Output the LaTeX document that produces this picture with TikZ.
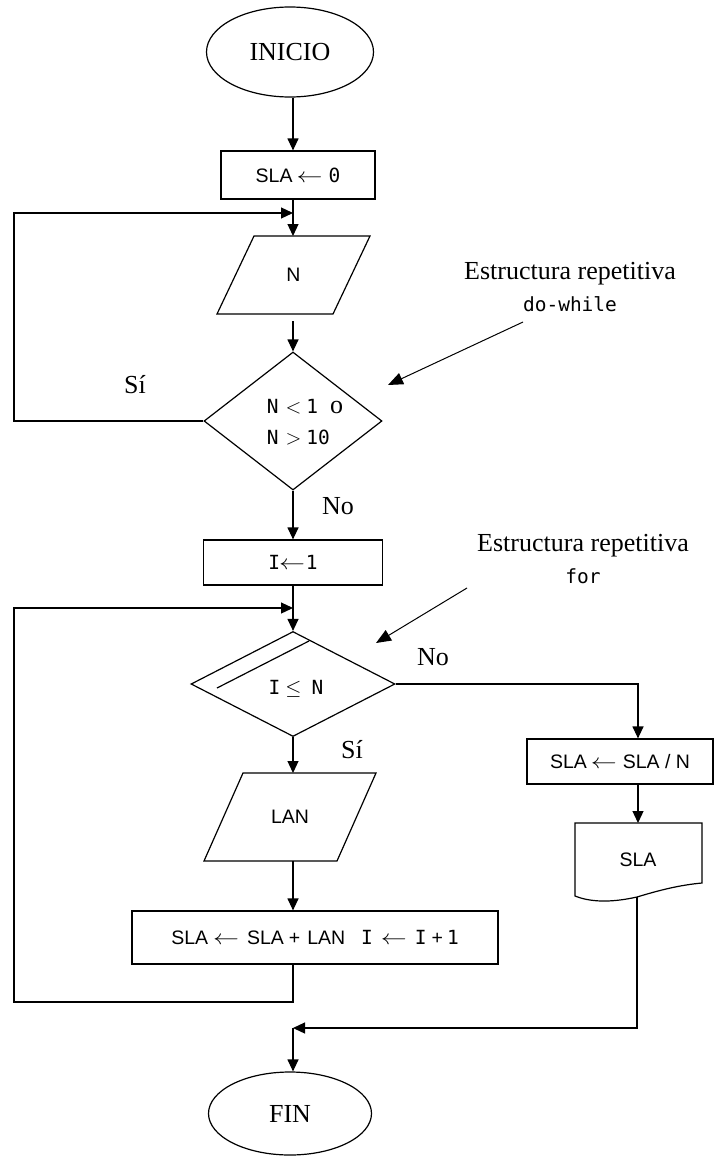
\documentclass[tikz,border=0pt]{standalone}
\usepackage{fontspec}
\setmainfont{Liberation Serif}
\newfontfamily\sansf{Liberation Sans}
\newfontfamily\monof{DejaVu Sans Mono}
\usetikzlibrary{arrows.meta,shapes.geometric}
\newcommand\lfarrow{\scalebox{1.25}[1]{$\leftarrow$}}
\begin{document}
\begin{tikzpicture}[x=1pt,y=-1pt,line width=1.2pt,
  arr/.style={-{Triangle[length=12pt,width=11pt]}},
  thinarr/.style={line width=1pt,-{Triangle[length=15pt,width=12pt]}},
  proc/.style={draw,rectangle,inner sep=0pt,font=\sansf\fontsize{19.5}{22}\selectfont},
  term/.style={draw,ellipse,inner sep=0pt,font=\fontsize{26}{30}\selectfont},
  dec/.style={draw,diamond,inner sep=0pt},
  lbl/.style={inner sep=0pt,font=\fontsize{26}{30}\selectfont},
  txt/.style={inner sep=0pt,font=\sansf\fontsize{19.5}{22}\selectfont},
  dtxt/.style={inner sep=0pt,align=left,font=\monof\fontsize{19.5}{31}\selectfont},
  ann/.style={inner sep=0pt,align=center,font=\fontsize{26}{36}\selectfont},
]
\fill[white] (0,0) rectangle (715,1156);
\useasboundingbox (0,0) rectangle (715,1156);

\coordinate (ax) at (293,0);
\coordinate (farL) at (14,0);
\coordinate (colR) at (638,0);

% nodes
\node[term,minimum width=167pt,minimum height=90pt] (inicio) at (290,52) {INICIO};
\node[proc,minimum width=154pt,minimum height=48pt] (s0) at (298,175) {SLA\hspace{4pt}\lfarrow\hspace{6pt}{\monof 0}};

\draw (254,236) -- (370,236) -- (333,314) -- (217,314) -- cycle;
\node[txt] (pN) at (293.5,275) {N};
\coordinate (pNt) at (293,236);
\coordinate (pNb) at (293,321);

\node[dec,minimum width=178pt,minimum height=138pt] (d1) at (293,421) {};
\node[dtxt] (d1txt) at (305,422)
  {N\hspace{7pt}$<$\hspace{5pt}1\hspace{12pt}{\rmfamily\fontsize{26}{31}\selectfont o}\\N\hspace{7pt}$>$\hspace{5pt}10};

\node[proc,minimum width=179pt,minimum height=45pt] (i1) at (293,562.5) {{\monof I}\hspace{-1pt}\lfarrow\hspace{1pt}{\monof 1}};

\node[dec,minimum width=204pt,minimum height=105pt] (d2) at (293,684) {};
\node[dtxt] (d2txt) at (296,689) {I\hspace{5pt}$\leq$\hspace{10pt}N};
\draw (217,688) -- (309,641);

\draw (243,773) -- (376,773) -- (337,861) -- (204,861) -- cycle;
\node[txt] (lan) at (290,817) {LAN};
\coordinate (lanT) at (293,773);
\coordinate (lanB) at (293,861);

\node[proc,minimum width=366pt,minimum height=53pt] (big) at (315,937.5)
  {SLA\hspace{5pt}\lfarrow\hspace{8pt}SLA\hspace{5pt}+\hspace{7pt}LAN\hspace{16pt}{\monof I}\hspace{8pt}\lfarrow\hspace{8pt}{\monof I}\hspace{5pt}+\hspace{4pt}{\monof 1}};

\node[proc,minimum width=186pt,minimum height=45pt] (sdiv) at (620,761.5) {SLA\hspace{4pt}\lfarrow\hspace{6pt}SLA / N};

\draw (575,823) -- (702,823) -- (702,883)
  .. controls (680,885) and (660,890) .. (637,897)
  .. controls (610,903) and (590,902) .. (575,896) -- cycle;
\node[txt] (doc) at (638,860) {SLA};
\coordinate (docT) at (638,823);
\coordinate (docB) at (637,897);

\node[term,minimum width=163pt,minimum height=83pt] (fin) at (290,1113.5) {FIN};

\coordinate (in1) at (293,213);
\coordinate (in2) at (293,608);
\coordinate (lp2) at (293,1002);
\coordinate (merge) at (293,1028);

% connectors
\draw[arr] (ax |- inicio.south) -- (ax |- s0.north);
\draw[arr] (ax |- s0.south) -- (pNt);
\draw[arr] (d1.west) -- (farL |- d1.west) -- (farL |- in1) -- (in1);
\draw[arr] (pNb) -- (d1.north);
\draw[arr] (d1.south) -- (i1.north);
\draw[arr] (i1.south) -- (d2.north);
\draw[arr] (d2.south) -- (lanT);
\draw[arr] (lanB) -- (ax |- big.north);
\draw[arr] (ax |- big.south) -- (lp2) -- (farL |- lp2) -- (farL |- in2) -- (in2);
\draw[arr] (d2.east) -| (colR |- sdiv.north);
\draw[arr] (colR |- sdiv.south) -- (docT);
\draw[arr] (docB) |- (merge);
\draw[arr] (merge) -- (ax |- fin.north);

% labels
\node[lbl] (si1) at (135,385) {Sí};
\node[lbl] (no1) at (338,506) {No};
\node[lbl] (no2) at (433,657) {No};
\node[lbl] (si2) at (352,750) {Sí};

% annotations
\node[ann] (ann1) at (570,287) {Estructura repetitiva\\[-4pt]{\monof\fontsize{19.5}{22}\selectfont do-while}};
\coordinate (a1s) at (523,322);
\coordinate (a1t) at (388,385);
\draw[thinarr] (a1s) -- (a1t);
\node[ann] (ann2) at (583,559) {Estructura repetitiva\\[-4pt]{\monof\fontsize{19.5}{22}\selectfont for}};
\coordinate (a2s) at (467,588);
\coordinate (a2t) at (376,643);
\draw[thinarr] (a2s) -- (a2t);
\end{tikzpicture}
\end{document}
